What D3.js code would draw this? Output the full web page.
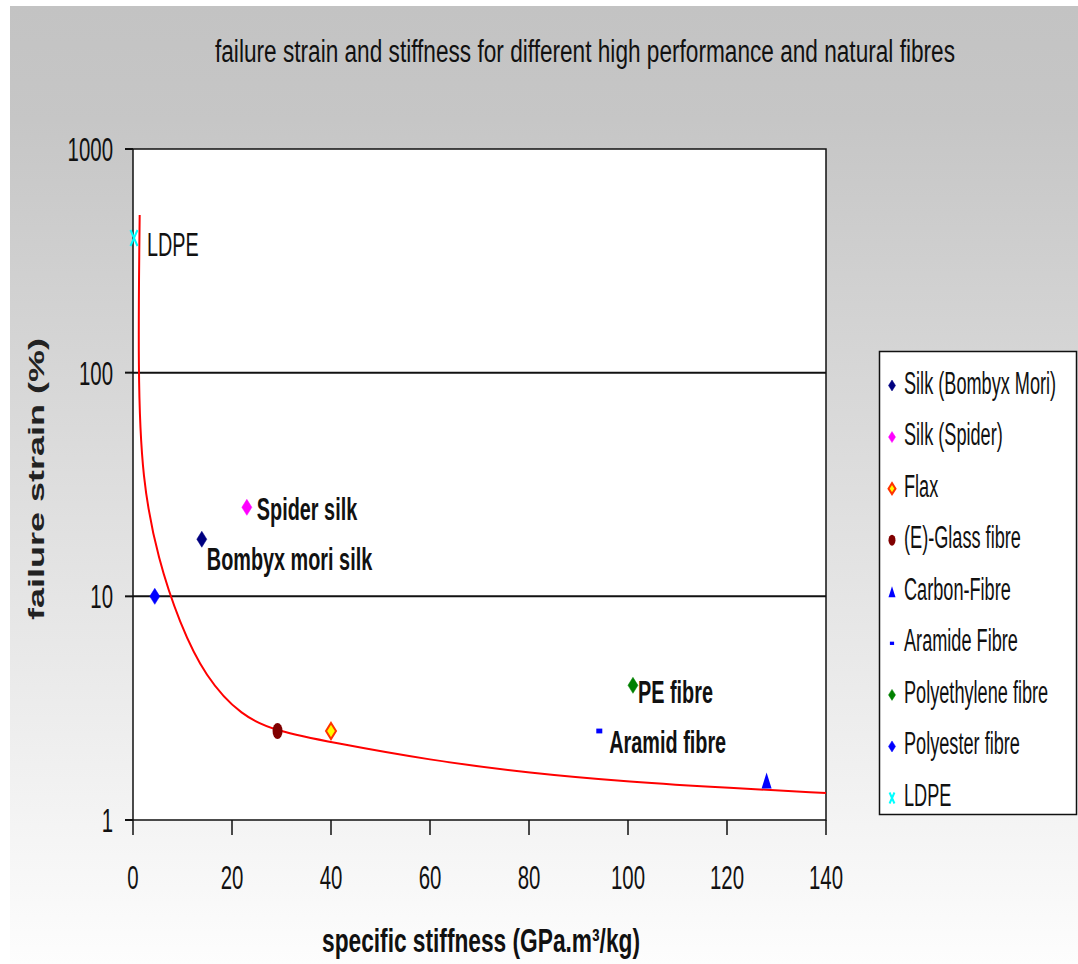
<!DOCTYPE html>
<html>
<head>
<meta charset="utf-8">
<script src="https://cdnjs.cloudflare.com/ajax/libs/d3/7.8.5/d3.min.js"></script>
<style>
  body { margin: 0; background: #fff; }
  text { font-family: "Liberation Sans", Arial, sans-serif; fill: #111; }
</style>
</head>
<body>
<svg id="chartSvg"></svg>
<script>
// series (one point each)
let seriesNames = ['Silk (Bombyx Mori)', 'Silk (Spider)', 'Flax', '(E)-Glass fibre', 'Carbon-Fibre',
                   'Aramide Fibre', 'Polyethylene fibre', 'Polyester fibre', 'LDPE']
let stiffness = [13.9, 23, 40, 29.2, 128, 94.2, 101, 4.4, 0.2]
let strain = [18, 25, 2.5, 2.5, 1.5, 2.5, 4, 10, 400]
let colors = ['#000080', '#ff00ff', '#ff6600', '#800000', '#0000ff', '#0000ff', '#008000', '#0000ff', '#00ffff']
let shapes = ['diamond', 'diamond', 'flax', 'circle', 'triangle', 'dash', 'diamond', 'diamond', 'cross']

// point labels inside the plot
let labelText = ['LDPE', 'Spider silk', 'Bombyx mori silk', 'PE fibre', 'Aramid fibre']
let labelOf = [8, 1, 0, 6, 5]

// red trend curve
let curveX = [1.35, 1.0, 1.8, 5.1, 9.4, 14.6, 22, 29, 39.8, 60, 80.2, 100.4, 120.6, 140]
let curveY = [507, 100, 33.1, 14.5, 7.6, 4.35, 2.9, 2.5, 2.23, 1.85, 1.62, 1.48, 1.39, 1.32]

let xTicks = [0, 20, 40, 60, 80, 100, 120, 140]
let yTicks = [1, 10, 100, 1000]
let yGrid = [10, 100]

let width = 1078, height = 964
let plot = { left: 133, right: 826, top: 149, bottom: 820 }

const svg = d3.select('#chartSvg').attr('width', width).attr('height', height)
const defs = svg.append('defs')

let grad = defs.append('linearGradient').attr('id', 'bg').attr('x1', 0).attr('y1', 0).attr('x2', 0).attr('y2', 1)
grad.append('stop').attr('offset', '0').attr('stop-color', '#c3c3c3')
grad.append('stop').attr('offset', '0.12').attr('stop-color', '#c6c6c6')
grad.append('stop').attr('offset', '1').attr('stop-color', '#fdfdfd')

svg.append('rect').attr('x', 10).attr('y', 6).attr('width', width - 10).attr('height', height - 6)
    .attr('fill', 'url(#bg)')

let x = d3.scaleLinear().domain([0, 140]).range([plot.left, plot.right])
let y = d3.scaleLog().domain([1, 1000]).range([plot.bottom, plot.top])

// squeeze text horizontally (the source picture is narrow)
function squeeze(sel, k) {
    sel.each(function() {
        let w = this.getComputedTextLength()
        this.setAttribute('textLength', w * k)
        this.setAttribute('lengthAdjust', 'spacingAndGlyphs')
    })
}

// title
svg.append('text')
    .attr('x', 585).attr('y', 62)
    .attr('text-anchor', 'middle')
    .style('font-size', '31px')
    .attr('textLength', 740).attr('lengthAdjust', 'spacingAndGlyphs')
    .text('failure strain and stiffness for different high performance and natural fibres')

// plot area
svg.append('rect')
    .attr('x', plot.left).attr('y', plot.top)
    .attr('width', plot.right - plot.left).attr('height', plot.bottom - plot.top)
    .attr('fill', '#fff')

const g = svg.append('g')

g.selectAll('.grid').data(yGrid).join('line')
    .attr('x1', plot.left).attr('x2', plot.right)
    .attr('y1', d => y(d)).attr('y2', d => y(d))
    .attr('stroke', '#111').attr('stroke-width', 2)

g.append('rect')
    .attr('x', plot.left).attr('y', plot.top)
    .attr('width', plot.right - plot.left).attr('height', plot.bottom - plot.top)
    .attr('fill', 'none').attr('stroke', '#111').attr('stroke-width', 1.5)

// y axis ticks and labels
g.selectAll('.ytick').data(yTicks).join('line')
    .attr('x1', plot.left - 8).attr('x2', plot.left)
    .attr('y1', d => y(d)).attr('y2', d => y(d))
    .attr('stroke', '#111').attr('stroke-width', 2)

g.selectAll('.ylab').data(yTicks).join('text')
    .attr('x', 113).attr('y', d => y(d) + 12)
    .attr('text-anchor', 'end')
    .style('font-size', '34px')
    .text(d => d)
    .call(squeeze, 0.6)

// x axis ticks and labels
g.selectAll('.xtick').data(xTicks).join('line')
    .attr('x1', d => x(d)).attr('x2', d => x(d))
    .attr('y1', plot.bottom).attr('y2', plot.bottom + 15)
    .attr('stroke', '#111').attr('stroke-width', 1.5)

g.selectAll('.xlab').data(xTicks).join('text')
    .attr('x', d => x(d)).attr('y', 889)
    .attr('text-anchor', 'middle')
    .style('font-size', '34px')
    .text(d => d)
    .call(squeeze, 0.6)

// axis titles
svg.append('text')
    .attr('x', 481).attr('y', 952)
    .attr('text-anchor', 'middle')
    .style('font-size', '33px').style('font-weight', 'bold')
    .attr('textLength', 318).attr('lengthAdjust', 'spacingAndGlyphs')
    .text('specific stiffness (GPa.m³/kg)')

svg.append('text')
    .attr('transform', 'translate(36,479) scale(0.6,1) rotate(-90)')
    .attr('text-anchor', 'middle')
    .attr('dy', '0.35em')
    .style('font-size', '36px').style('font-weight', 'bold')
    .style('fill', '#222')
    .text('failure strain (%)')

// curve
let line = d3.line()
    .x(d => x(d[0])).y(d => y(d[1]))
    .curve(d3.curveBasis)

g.append('path')
    .datum(curveX.map((v, i) => [v, curveY[i]]))
    .attr('d', line)
    .attr('fill', 'none')
    .attr('stroke', '#ff0000')
    .attr('stroke-width', 2)

// marker drawing, w and h in pixels
function drawMarker(sel, shape, color, w, h) {
    if (shape == 'diamond' || shape == 'flax') {
        sel.append('path')
            .attr('d', `M0 ${-h/2} L${w/2} 0 L0 ${h/2} L${-w/2} 0 Z`)
            .attr('fill', shape == 'flax' ? '#ffff00' : color)
            .attr('stroke', shape == 'flax' ? '#ff3300' : color)
            .attr('stroke-width', shape == 'flax' ? 2 : 0.5)
    } else if (shape == 'circle') {
        sel.append('ellipse').attr('rx', w/2).attr('ry', h/2).attr('fill', color)
    } else if (shape == 'triangle') {
        sel.append('path')
            .attr('d', `M0 ${-h/2} L${w/2} ${h/2} L${-w/2} ${h/2} Z`)
            .attr('fill', color)
    } else if (shape == 'dash') {
        sel.append('rect').attr('x', -w * 0.3).attr('y', -h * 0.15)
            .attr('width', w * 0.6).attr('height', h * 0.3).attr('fill', color)
    } else if (shape == 'cross') {
        sel.append('path')
            .attr('d', `M${-w*0.35} ${-h/2} L${w*0.35} ${h/2} M${w*0.35} ${-h/2} L${-w*0.35} ${h/2}`)
            .attr('stroke', color).attr('stroke-width', 2).attr('fill', 'none')
    }
}

// points
for (let i = 0; i < seriesNames.length; i++) {
    let pg = g.append('g').attr('transform', `translate(${x(stiffness[i])},${y(strain[i])})`)
    drawMarker(pg, shapes[i], colors[i], 10, 16)
}

// point labels
let labelStyle = [
    { dx: 13, dy: 18, size: 33, weight: 'normal' },
    { dx: 10, dy: 13, size: 31, weight: 'bold' },
    { dx: 5, dy: 31, size: 31, weight: 'bold' },
    { dx: 5, dy: 18, size: 31, weight: 'bold' },
    { dx: 10, dy: 22, size: 31, weight: 'bold' }
]
labelText.forEach((t, j) => {
    let i = labelOf[j]
    let s = labelStyle[j]
    g.append('text')
        .attr('x', x(stiffness[i]) + s.dx).attr('y', y(strain[i]) + s.dy)
        .style('font-size', s.size + 'px').style('font-weight', s.weight)
        .text(t)
        .call(squeeze, s.weight == 'bold' ? 0.64 : 0.6)
})

// legend
let legend = svg.append('g')
legend.append('rect')
    .attr('x', 879.5).attr('y', 351.5).attr('width', 197).attr('height', 463)
    .attr('fill', '#fff').attr('stroke', '#111').attr('stroke-width', 1.5)

let rowY = d3.scaleLinear().domain([0, seriesNames.length - 1]).range([382.5, 795])
seriesNames.forEach((name, i) => {
    let mg = legend.append('g').attr('transform', `translate(892,${rowY(i) + 3})`)
    drawMarker(mg, shapes[i], colors[i], 7, 11)
    legend.append('text')
        .attr('x', 904).attr('y', rowY(i) + 11)
        .style('font-size', '31px')
        .text(name)
        .call(squeeze, 0.585)
})
</script>
</body>
</html>
